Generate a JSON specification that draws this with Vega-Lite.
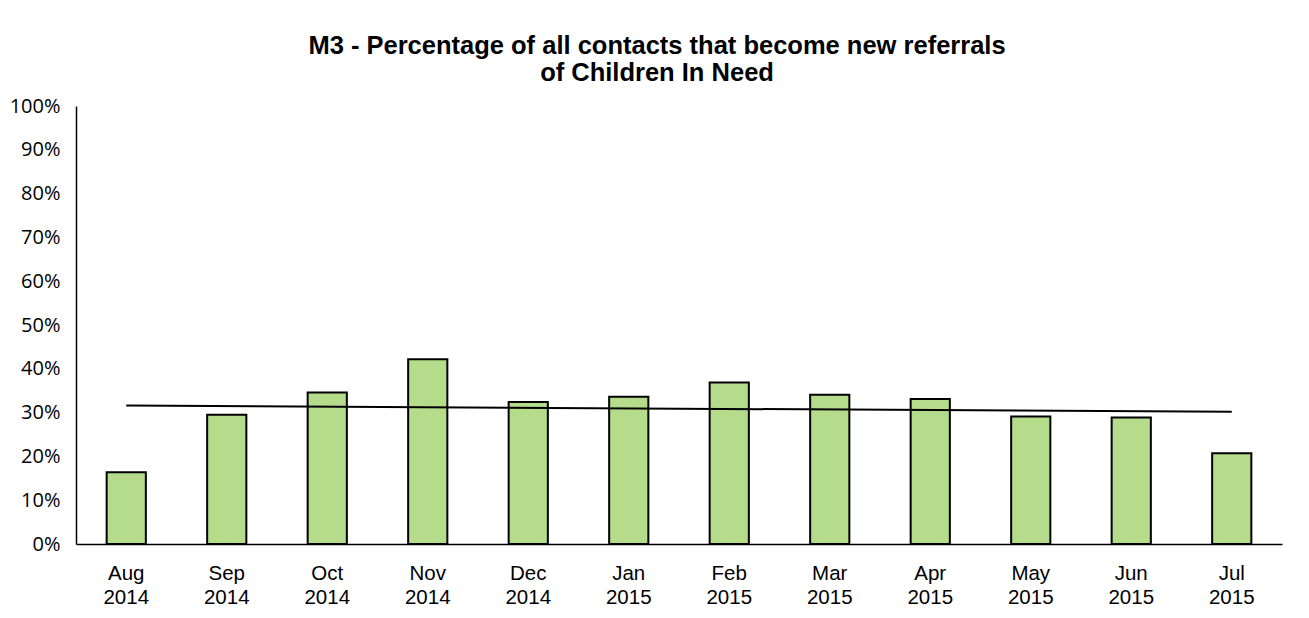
{
  "$schema": "https://vega.github.io/schema/vega-lite/v6.json",
  "width": 1206,
  "height": 438,
  "autosize": {"type": "none"},
  "padding": {"left": 76, "top": 106, "right": 27, "bottom": 74},
  "background": "white",
  "config": {"view": {"stroke": null}, "font": "Arial"},
  "title": {
    "text": ["M3 - Percentage of all contacts that become new referrals", "of Children In Need"],
    "font": "Arial",
    "fontSize": 25.5,
    "fontWeight": "bold",
    "color": "black",
    "anchor": "middle",
    "frame": "group",
    "dx": -22,
    "offset": 10,
    "lineHeight": 27
  },
  "datasets": {
    "bars": [
      {"month": "Aug 2014", "pct": 16.4},
      {"month": "Sep 2014", "pct": 29.5},
      {"month": "Oct 2014", "pct": 34.6},
      {"month": "Nov 2014", "pct": 42.2},
      {"month": "Dec 2014", "pct": 32.4},
      {"month": "Jan 2015", "pct": 33.6},
      {"month": "Feb 2015", "pct": 36.9},
      {"month": "Mar 2015", "pct": 34.1},
      {"month": "Apr 2015", "pct": 33.1},
      {"month": "May 2015", "pct": 29.1},
      {"month": "Jun 2015", "pct": 28.9},
      {"month": "Jul 2015", "pct": 20.7}
    ],
    "trend": [
      {"month": "Aug 2014", "trend": 31.6},
      {"month": "Jul 2015", "trend": 30.2}
    ]
  },
  "layer": [
    {
      "data": {"name": "bars"},
      "mark": {"type": "bar", "fill": "#b4dc8a", "stroke": "black", "strokeWidth": 2},
      "encoding": {
        "x": {
          "field": "month",
          "type": "nominal",
          "sort": null,
          "scale": {
            "domain": ["Aug 2014", "Sep 2014", "Oct 2014", "Nov 2014", "Dec 2014", "Jan 2015", "Feb 2015", "Mar 2015", "Apr 2015", "May 2015", "Jun 2015", "Jul 2015"],
            "paddingInner": 0.61,
            "paddingOuter": 0.305
          },
          "axis": {
            "title": null,
            "labelAngle": 0,
            "labelExpr": "[split(datum.value, ' ')[0] + '\u00a0\u00a0\u00a0\u00a0', split(datum.value, ' ')[1]]",
            "labelFont": "Arial",
            "labelFontSize": 20.5,
            "labelLineHeight": 24,
            "labelColor": "black",
            "labelBaseline": "top",
            "labelPadding": 19,
            "ticks": false,
            "grid": false,
            "domainColor": "black",
            "domainWidth": 1.5
          }
        },
        "y": {
          "field": "pct",
          "type": "quantitative",
          "scale": {"domain": [0, 100], "nice": false},
          "axis": {
            "title": null,
            "values": [0, 10, 20, 30, 40, 50, 60, 70, 80, 90, 100],
            "labelExpr": "datum.value + '%'",
            "labelFont": "Open Sans",
            "labelFontSize": 20,
            "labelColor": "black",
            "labelPadding": 16,
            "ticks": false,
            "grid": false,
            "domainColor": "black",
            "domainWidth": 1.5
          }
        }
      }
    },
    {
      "data": {"name": "trend"},
      "mark": {"type": "line", "color": "black", "strokeWidth": 2},
      "encoding": {
        "x": {"field": "month", "type": "nominal", "sort": null},
        "y": {"field": "trend", "type": "quantitative"}
      }
    }
  ]
}
